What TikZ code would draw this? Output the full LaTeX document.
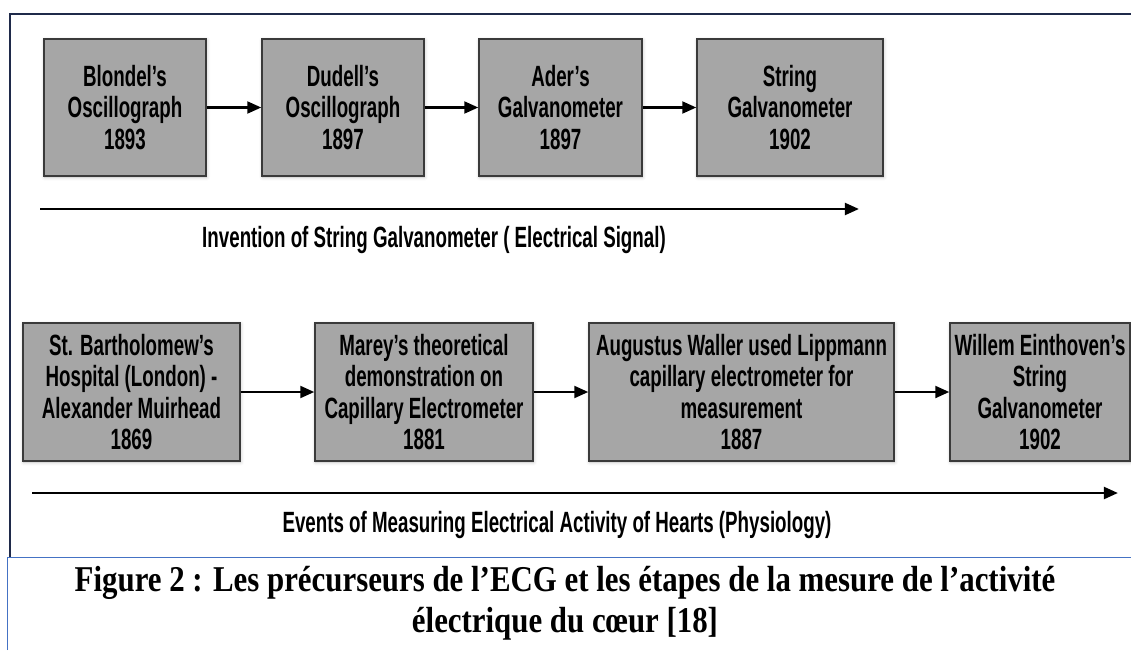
\documentclass[tikz,border=0pt]{standalone}
\usepackage{fontspec}
\usetikzlibrary{arrows.meta,shadows.blur}
\newfontfamily\boxfont[FakeStretch=0.64]{Liberation Sans}
\newfontfamily\capfont[FakeStretch=0.85]{Liberation Serif}
\definecolor{boxgray}{HTML}{A6A6A6}
\definecolor{edgegray}{HTML}{3A3A3A}
\definecolor{framenavy}{HTML}{1F2A4A}
\definecolor{frameblue}{HTML}{4472C4}
\tikzset{
  event/.style={draw=edgegray, line width=1.1pt, fill=boxgray, align=center,
    font=\boxfont\bfseries\fontsize{25}{27}\selectfont, inner sep=0pt,
    blur shadow={shadow xshift=0.6pt, shadow yshift=-1pt, shadow blur radius=3pt, shadow opacity=25}},
  arr/.style={-{Triangle[length=12pt,width=10pt]}, line width=2.4pt},
  axislabel/.style={font=\boxfont\bfseries\fontsize{25}{27}\selectfont}
}

\begin{document}
\begin{tikzpicture}[x=0.03cm, y=-0.03cm]
    \useasboundingbox (0,0) rectangle (1131,650);

    % frame
    \draw[framenavy, line width=1.6pt] (10,557) -- (10,14) -- (1131,14);
    \draw[frameblue, line width=0.8pt] (7,650) -- (7,557) -- (1131,557);

    % top row
    \node[event, minimum width=162*0.03cm, minimum height=137*0.03cm] (blondel) at (125,107.5) {Blondel’s\\Oscillograph\\1893};
    \node[event, minimum width=162*0.03cm, minimum height=137*0.03cm] (dudell) at (343,107.5) {Dudell’s\\Oscillograph\\1897};
    \node[event, minimum width=163*0.03cm, minimum height=137*0.03cm] (ader) at (560.5,107.5) {Ader’s\\Galvanometer\\1897};
    \node[event, minimum width=186*0.03cm, minimum height=137*0.03cm] (string) at (790,107.5) {String\\Galvanometer\\1902};

    \draw[arr] (blondel) -- (dudell);
    \draw[arr] (dudell) -- (ader);
    \draw[arr] (ader) -- (string);

    \coordinate (t0) at (40,209);
    \coordinate (t1) at (859,209);
    \draw[arr] (t0) -- (t1);
    \node[axislabel] (invention) at (434,240) {Invention of String Galvanometer ( Electrical Signal)};

    % bottom row
    \node[event, minimum width=217*0.03cm, minimum height=138*0.03cm] (bart) at (131.5,392) {St. Bartholomew’s\\Hospital (London) -\\Alexander Muirhead\\1869};
    \node[event, minimum width=218*0.03cm, minimum height=138*0.03cm] (marey) at (424,392) {Marey’s theoretical\\demonstration on\\Capillary Electrometer\\1881};
    \node[event, minimum width=305*0.03cm, minimum height=138*0.03cm] (waller) at (741.5,392) {Augustus Waller used Lippmann\\capillary electrometer for\\measurement\\1887};
    \node[event, minimum width=180*0.03cm, minimum height=138*0.03cm] (einthoven) at (1040,392) {Willem Einthoven’s\\String\\Galvanometer\\1902};

    \draw[arr] (bart) -- (marey);
    \draw[arr] (marey) -- (waller);
    \draw[arr] (waller) -- (einthoven);

    \coordinate (b0) at (32,493);
    \coordinate (b1) at (1118,493);
    \draw[arr] (b0) -- (b1);
    \node[axislabel] (events) at (557,525) {Events of Measuring Electrical Activity of Hearts (Physiology)};

    % caption
    \node[font=\capfont\bfseries\fontsize{31}{35}\selectfont, align=center] (caption) at (565,603)
      {Figure 2 : Les précurseurs de l’ECG et les étapes de la mesure de l’activité\\électrique du cœur [18]};
\end{tikzpicture}
\end{document}
